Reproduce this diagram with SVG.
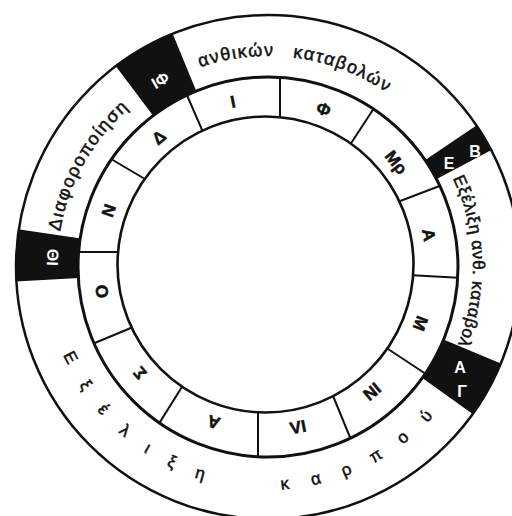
<svg xmlns="http://www.w3.org/2000/svg" width="512" height="516" viewBox="0 0 512 516">
<style>
.ln{fill:none;stroke:#111;}
.t{font-family:"Liberation Sans","DejaVu Sans",sans-serif;fill:#111;stroke:#111;stroke-width:0.5;}
.m{font-size:17px;font-weight:bold;text-anchor:middle;}
.box{fill:#111;stroke:#111;stroke-width:1.5;}
.bt{font-family:"Liberation Sans","DejaVu Sans",sans-serif;fill:#fff;font-weight:bold;font-size:16px;text-anchor:middle;}
.band{font-size:18px;}
</style>
<defs>
<path id="pTop" d="M57,267 A211,211 0 0 1 479,267"/>
<path id="pRight" d="M268,62 A205,205 0 0 1 268,472"/>
<path id="pLeft" d="M268,478 A211,211 0 0 1 268,56"/>
<path id="pBot" d="M45.5,267 A222.5,222.5 0 0 0 490.5,267"/>
<clipPath id="ring"><path clip-rule="evenodd" d="M78,267 a190,190 0 1 0 380,0 a190,190 0 1 0 -380,0 Z M117.5,264.5 a148,148 0 1 0 296,0 a148,148 0 1 0 -296,0 Z"/></clipPath>
</defs>
<rect width="512" height="516" fill="#fff"/>

<g id="circles">
<circle class="ln" cx="268" cy="267" r="252" stroke-width="2.5"/>
<circle class="ln" cx="268" cy="267" r="190" stroke-width="3"/>
<circle class="ln" cx="265.5" cy="264.5" r="148" stroke-width="2.6"/>
</g>

<g id="connectors" clip-path="url(#ring)" stroke="#111" stroke-width="2">
<line x1="280" y1="68" x2="280" y2="125"/>
<line x1="380" y1="99" x2="346" y2="151"/>
<line x1="395" y1="203" x2="450" y2="182"/>
<line x1="408" y1="275" x2="465" y2="278"/>
<line x1="385" y1="347" x2="432" y2="378"/>
<line x1="331" y1="391" x2="354" y2="447"/>
<line x1="258" y1="405" x2="258" y2="465"/>
<line x1="185" y1="382" x2="155" y2="430"/>
<line x1="138" y1="325" x2="90" y2="345"/>
<line x1="74" y1="252" x2="126" y2="252"/>
<line x1="106" y1="156" x2="150" y2="182"/>
<line x1="183" y1="86" x2="206" y2="139"/>
</g>

<g id="months" class="t m">
<text id="m-jan" x="265.5" y="104.5" transform="rotate(-11.3 265.5 264.5)">Ι</text>
<text id="m-feb" x="265.5" y="104.5" transform="rotate(20.5 265.5 264.5)">Φ</text>
<text id="m-mar" x="265.5" y="104.5" transform="rotate(52 265.5 264.5)">Μρ</text>
<text id="m-apr" x="265.5" y="104.5" transform="rotate(79.8 265.5 264.5)">Α</text>
<text id="m-may" x="265.5" y="104.5" transform="rotate(110.8 265.5 264.5)">Μ</text>
<text id="m-jun" x="265.5" y="104.5" transform="rotate(140 265.5 264.5)">ΙΝ</text>
<text id="m-jul" x="265.5" y="104.5" transform="rotate(168.7 265.5 264.5)">ΙΛ</text>
<text id="m-aug" x="265.5" y="104.5" transform="rotate(198.2 265.5 264.5)">Α</text>
<text id="m-sep" x="265.5" y="104.5" transform="rotate(229.2 265.5 264.5)">Σ</text>
<text id="m-oct" x="265.5" y="104.5" transform="rotate(260.7 265.5 264.5)">Ο</text>
<text id="m-nov" x="265.5" y="104.5" transform="rotate(289 265.5 264.5)">Ν</text>
<text id="m-dec" x="265.5" y="104.5" transform="rotate(320 265.5 264.5)">Δ</text>
</g>

<g id="box-fr">
<path class="box" d="M116.35,65.75 A252,252 0 0 1 171.96,34.03 L195.59,91.34 A190,190 0 0 0 153.66,115.27 Z"/>
<text class="bt" x="268" y="57" transform="rotate(-30 268 267)">ΙΦ</text>
</g>
<g id="box-th">
<path class="box" d="M16.37,280.63 A252,252 0 0 1 18.70,230.19 L80.04,239.24 A190,190 0 0 0 78.28,277.28 Z"/>
<text class="bt" x="268" y="57" transform="rotate(-87.4 268 267)">ΙΘ</text>
</g>
<g id="box-eb">
<path class="box" d="M476.92,126.08 A252,252 0 0 1 490.91,149.47 L436.07,178.39 A190,190 0 0 0 425.52,160.75 Z"/>
<text class="bt" x="449" y="169">Ε</text>
<text class="bt" x="475" y="157">Β</text>
</g>
<g id="box-ag">
<path class="box" d="M500.47,364.25 A252,252 0 0 1 473.16,413.34 L422.68,377.33 A190,190 0 0 0 443.28,340.32 Z"/>
<text class="bt" x="460" y="373">Α</text>
<text class="bt" x="462" y="397">Γ</text>
</g>

<g id="labels" class="t band">
<text id="l-top"><textPath href="#pTop" startOffset="262" letter-spacing="1.5" word-spacing="12">ανθικών καταβολών</textPath></text>
<text id="l-right" style="font-size:17px"><textPath href="#pRight" startOffset="230" letter-spacing="0.6">Εξέλιξη ανθ. καταβολ</textPath></text>
<text id="l-left"><textPath href="#pLeft" startOffset="367" letter-spacing="1.5">Διαφοροποίηση</textPath></text>
<text id="l-bottom" style="font-size:17px"><textPath href="#pBot" startOffset="90" letter-spacing="23" word-spacing="28">Εξέλιξη καρπού</textPath></text>
</g>
</svg>
